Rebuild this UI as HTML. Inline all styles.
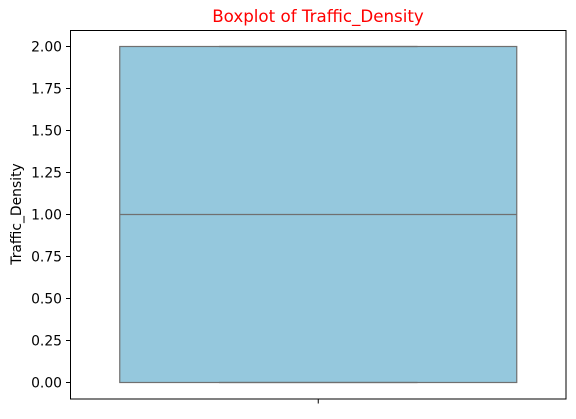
<!DOCTYPE html>
<html><head><meta charset="utf-8"><style>body{margin:0;background:#fff}svg{font-family:"DejaVu Sans","Liberation Sans",sans-serif}</style></head>
<body>
<svg width="576" height="414" viewBox="0 0 576 414">
<script>
const categories=["Traffic_Density"];
const q1Values=[0];
const medianValues=[1];
const q3Values=[2];
const minValues=[0];
const maxValues=[2];
const yTicks=[0,0.25,0.5,0.75,1,1.25,1.5,1.75,2];
</script>
<rect x="70.5" y="30.5" width="495.5" height="368.5" fill="none" stroke="#000" stroke-width="1"/>
<g id="g"></g>
<text x="318" y="22" text-anchor="middle" font-size="16.7" fill="red">Boxplot of Traffic_Density</text>
<text transform="translate(21,214) rotate(-90)" text-anchor="middle" font-size="13.9">Traffic_Density</text>
<script>
const ns="http://www.w3.org/2000/svg",g=document.getElementById('g');
const y=v=>382.5-(v-0)*(382.5-46.5)/2;
const cx=318.25,hw=198.5;
function mk(t,a){const e=document.createElementNS(ns,t);for(const k in a)e.setAttribute(k,a[k]);g.appendChild(e);return e;}
yTicks.forEach(v=>{
 const t=mk('line',{x1:66,x2:70.5,y1:y(v),y2:y(v),stroke:'#000'});
 
 
 const l=mk('text',{x:62,y:y(v)+5,'text-anchor':'end','font-size':13.9});
 l.textContent=v.toFixed(2);
 
 
});
const xt=mk('line',{x1:cx,x2:cx,y1:399,y2:403.5,stroke:'#000'});


categories.forEach((c,i)=>{
 const b=mk('rect',{x:cx-hw,y:y(q3Values[i]),width:2*hw,height:y(q1Values[i])-y(q3Values[i]),fill:'#95c8dd',stroke:'#707070','stroke-width':1.2});
 
 
 const m=mk('line',{x1:cx-hw,x2:cx+hw,y1:y(medianValues[i]),y2:y(medianValues[i]),stroke:'#707070','stroke-width':1.2});
 
 
 [minValues[i],maxValues[i]].forEach(v=>{
  const c2=mk('line',{x1:cx-hw/2,x2:cx+hw/2,y1:y(v),y2:y(v),stroke:'#707070','stroke-width':1.2});
  
  
 });
});
</script>
</svg>
</body></html>
